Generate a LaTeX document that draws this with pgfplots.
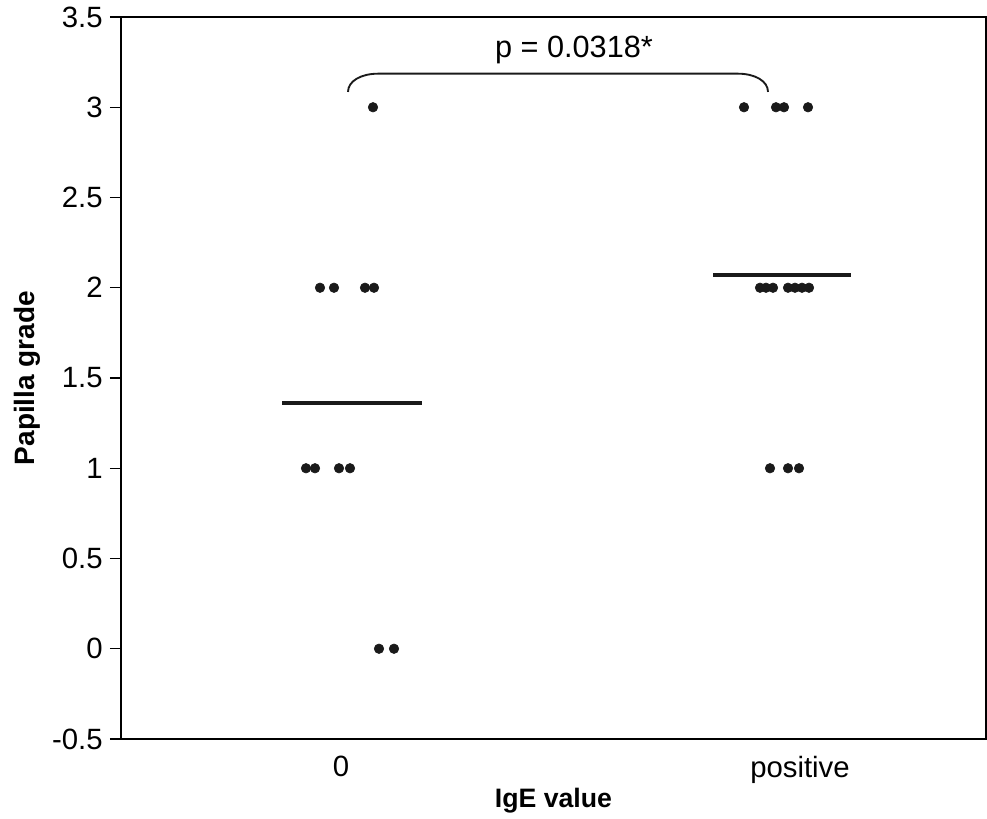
\documentclass[border=0pt]{standalone}
\usepackage{pgfplots}
\pgfplotsset{compat=1.18}
\usepackage{fontspec}
\setmainfont{Liberation Sans}
\definecolor{dot}{HTML}{1A1A1A}
\begin{document}
\begin{tikzpicture}
\begin{axis}[
  at={(0,0)}, anchor=south west,
  scale only axis, width=648.75pt, height=541.5pt,
  xmin=121, xmax=986, ymin=-0.5, ymax=3.5,
  xtick={341,800}, xticklabels={0,positive},
  ytick={-0.5,0,0.5,1,1.5,2,2.5,3,3.5},
  yticklabels={-0.5,0,0.5,1,1.5,2,2.5,3,3.5},
  tick align=outside,
  major tick length=8.25pt,
  ytick pos=left,
  xtick style={draw=none},
  ytick style={line width=1pt, black},
  axis line style={line width=2.1pt},
  ticklabel style={font=\fontsize{22}{26}\selectfont},
  yticklabel style={xshift=-2pt},
  xticklabel style={yshift=-1pt},
  xlabel={IgE value}, ylabel={Papilla grade},
  label style={font=\fontsize{20}{24}\selectfont\bfseries},
  xlabel style={at={(axis description cs:0.5,0)}, anchor=center, yshift=-46pt},
  ylabel style={at={(axis description cs:-0.1087,0.5)}, anchor=center, font=\fontsize{21}{25}\selectfont\bfseries},
  clip=false,
]
\addplot[only marks, mark=*, mark size=3.6pt, color=dot] coordinates {
  (373,3) (320,2) (334,2) (365,2) (374,2)
  (306,1) (315,1) (339,1) (350,1) (379,0) (394,0)
};
\addplot[only marks, mark=*, mark size=3.6pt, color=dot] coordinates {
  (744,3) (776,3) (784,3) (808,3)
  (760,2) (766,2) (773,2) (788,2) (795,2) (802,2) (809,2)
  (770,1) (788,1) (799,1)
};
\addplot[line width=3pt, color=dot] coordinates {(282,1.364) (422,1.364)};
\addplot[line width=3pt, color=dot] coordinates {(713,2.071) (851,2.071)};
\draw[line width=1.4pt, color=dot] (axis cs:348,3.085) .. controls (axis cs:348,3.145) and (axis cs:361,3.186) .. (axis cs:378,3.186)
  -- (axis cs:738,3.186) .. controls (axis cs:755,3.186) and (axis cs:768,3.145) .. (axis cs:768,3.085);
\node[font=\fontsize{23}{27}\selectfont] at (axis cs:574,3.32) {p = 0.0318*};
\end{axis}
\pgfresetboundingbox
\path[use as bounding box] (-90.75pt,-59.25pt) rectangle (649.5pt,554.25pt);
\end{tikzpicture}
\end{document}
